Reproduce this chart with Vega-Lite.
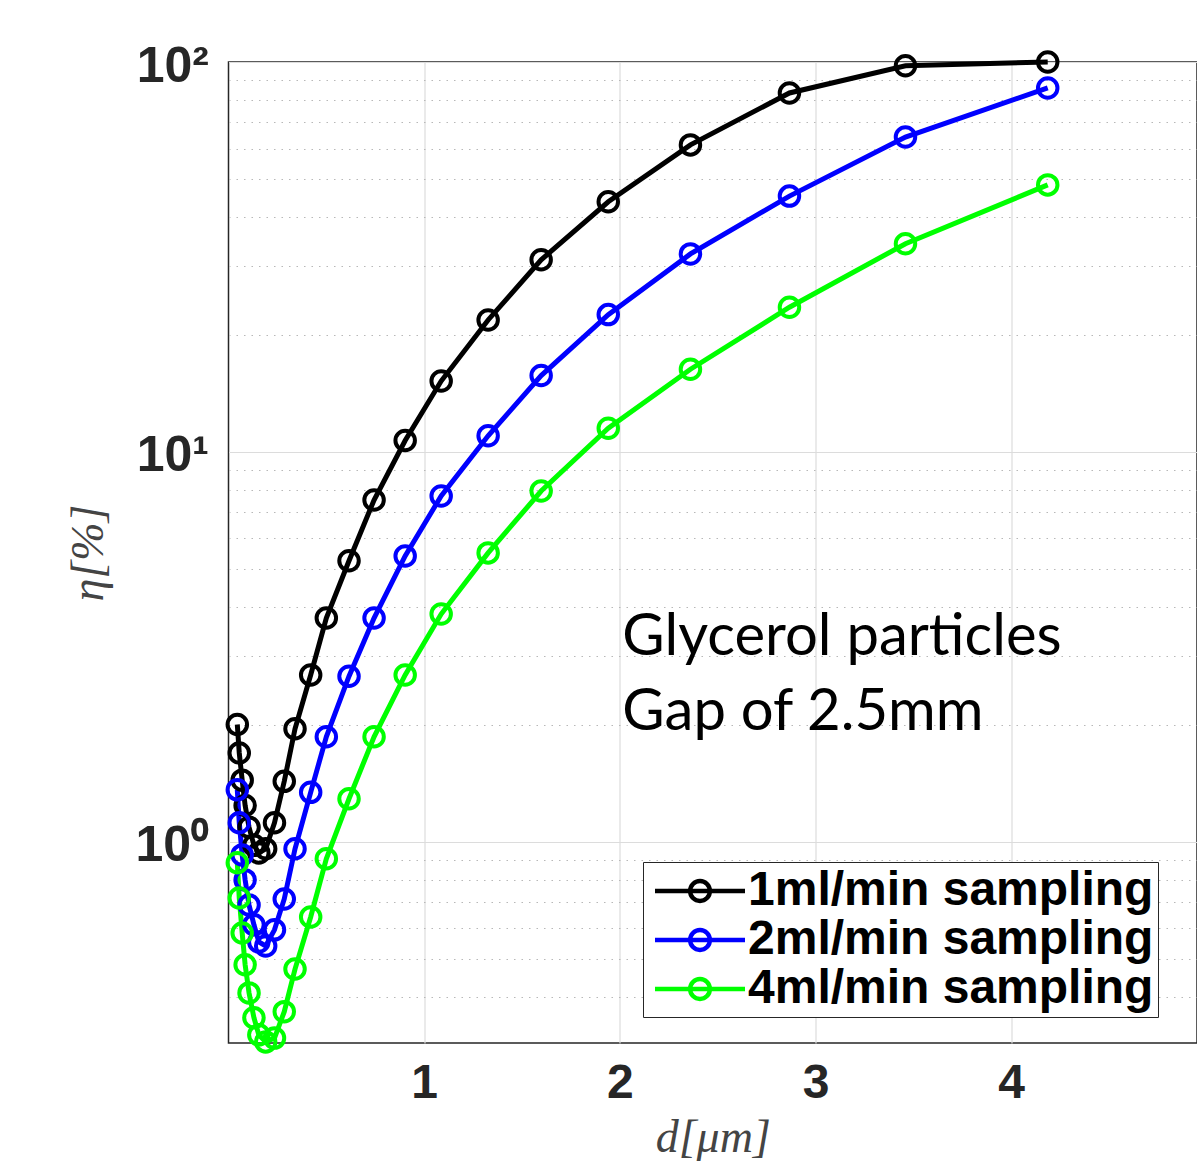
{
  "$schema": "https://vega.github.io/schema/vega-lite/v6.json",
  "autosize": {"type": "none"},
  "padding": {"left": 228.5, "top": 62, "right": 0, "bottom": 118},
  "width": 968.5,
  "height": 981,
  "background": "white",
  "config": {"view": {"stroke": "#262626", "strokeWidth": 1.5}},
  "datasets": {
    "curves": [
      {"series": "1ml/min sampling", "d": 0.045, "eta": 2.0},
      {"series": "1ml/min sampling", "d": 0.055, "eta": 1.69},
      {"series": "1ml/min sampling", "d": 0.07, "eta": 1.44},
      {"series": "1ml/min sampling", "d": 0.085, "eta": 1.24},
      {"series": "1ml/min sampling", "d": 0.105, "eta": 1.09},
      {"series": "1ml/min sampling", "d": 0.13, "eta": 0.98},
      {"series": "1ml/min sampling", "d": 0.155, "eta": 0.937},
      {"series": "1ml/min sampling", "d": 0.19, "eta": 0.96},
      {"series": "1ml/min sampling", "d": 0.235, "eta": 1.12},
      {"series": "1ml/min sampling", "d": 0.285, "eta": 1.43},
      {"series": "1ml/min sampling", "d": 0.34, "eta": 1.95},
      {"series": "1ml/min sampling", "d": 0.42, "eta": 2.68},
      {"series": "1ml/min sampling", "d": 0.5, "eta": 3.75},
      {"series": "1ml/min sampling", "d": 0.616, "eta": 5.26},
      {"series": "1ml/min sampling", "d": 0.744, "eta": 7.53},
      {"series": "1ml/min sampling", "d": 0.903, "eta": 10.7},
      {"series": "1ml/min sampling", "d": 1.087, "eta": 15.2},
      {"series": "1ml/min sampling", "d": 1.327, "eta": 21.8},
      {"series": "1ml/min sampling", "d": 1.598, "eta": 31.1},
      {"series": "1ml/min sampling", "d": 1.941, "eta": 43.8},
      {"series": "1ml/min sampling", "d": 2.361, "eta": 61.3},
      {"series": "1ml/min sampling", "d": 2.867, "eta": 83.3},
      {"series": "1ml/min sampling", "d": 3.46, "eta": 97.8},
      {"series": "1ml/min sampling", "d": 4.187, "eta": 100},
      {"series": "2ml/min sampling", "d": 0.045, "eta": 1.36},
      {"series": "2ml/min sampling", "d": 0.055, "eta": 1.12},
      {"series": "2ml/min sampling", "d": 0.07, "eta": 0.926},
      {"series": "2ml/min sampling", "d": 0.085, "eta": 0.799},
      {"series": "2ml/min sampling", "d": 0.105, "eta": 0.689},
      {"series": "2ml/min sampling", "d": 0.13, "eta": 0.613},
      {"series": "2ml/min sampling", "d": 0.155, "eta": 0.554},
      {"series": "2ml/min sampling", "d": 0.19, "eta": 0.541},
      {"series": "2ml/min sampling", "d": 0.235, "eta": 0.595},
      {"series": "2ml/min sampling", "d": 0.285, "eta": 0.714},
      {"series": "2ml/min sampling", "d": 0.34, "eta": 0.96},
      {"series": "2ml/min sampling", "d": 0.42, "eta": 1.34},
      {"series": "2ml/min sampling", "d": 0.5, "eta": 1.86},
      {"series": "2ml/min sampling", "d": 0.616, "eta": 2.66},
      {"series": "2ml/min sampling", "d": 0.744, "eta": 3.75},
      {"series": "2ml/min sampling", "d": 0.903, "eta": 5.41},
      {"series": "2ml/min sampling", "d": 1.087, "eta": 7.71},
      {"series": "2ml/min sampling", "d": 1.327, "eta": 11.0},
      {"series": "2ml/min sampling", "d": 1.598, "eta": 15.7},
      {"series": "2ml/min sampling", "d": 1.941, "eta": 22.5},
      {"series": "2ml/min sampling", "d": 2.361, "eta": 32.2},
      {"series": "2ml/min sampling", "d": 2.867, "eta": 45.3},
      {"series": "2ml/min sampling", "d": 3.46, "eta": 64.2},
      {"series": "2ml/min sampling", "d": 4.187, "eta": 85.8},
      {"series": "4ml/min sampling", "d": 0.045, "eta": 0.884},
      {"series": "4ml/min sampling", "d": 0.055, "eta": 0.718},
      {"series": "4ml/min sampling", "d": 0.07, "eta": 0.584},
      {"series": "4ml/min sampling", "d": 0.085, "eta": 0.484},
      {"series": "4ml/min sampling", "d": 0.105, "eta": 0.41},
      {"series": "4ml/min sampling", "d": 0.13, "eta": 0.354},
      {"series": "4ml/min sampling", "d": 0.155, "eta": 0.32},
      {"series": "4ml/min sampling", "d": 0.19, "eta": 0.307},
      {"series": "4ml/min sampling", "d": 0.235, "eta": 0.314},
      {"series": "4ml/min sampling", "d": 0.285, "eta": 0.367},
      {"series": "4ml/min sampling", "d": 0.34, "eta": 0.472},
      {"series": "4ml/min sampling", "d": 0.42, "eta": 0.642},
      {"series": "4ml/min sampling", "d": 0.5, "eta": 0.905},
      {"series": "4ml/min sampling", "d": 0.616, "eta": 1.29},
      {"series": "4ml/min sampling", "d": 0.744, "eta": 1.86},
      {"series": "4ml/min sampling", "d": 0.903, "eta": 2.68},
      {"series": "4ml/min sampling", "d": 1.087, "eta": 3.84},
      {"series": "4ml/min sampling", "d": 1.327, "eta": 5.51},
      {"series": "4ml/min sampling", "d": 1.598, "eta": 7.94},
      {"series": "4ml/min sampling", "d": 1.941, "eta": 11.5},
      {"series": "4ml/min sampling", "d": 2.361, "eta": 16.3},
      {"series": "4ml/min sampling", "d": 2.867, "eta": 23.5},
      {"series": "4ml/min sampling", "d": 3.46, "eta": 34.2},
      {"series": "4ml/min sampling", "d": 4.187, "eta": 48.4}
    ],
    "notes": [
      {"text": "Glycerol particles", "d": 2.013, "eta": 3.02},
      {"text": "Gap of 2.5mm", "d": 2.013, "eta": 1.94}
    ]
  },
  "layer": [
    {
      "data": {"name": "notes"},
      "mark": {"type": "text", "align": "left", "baseline": "alphabetic", "font": "Lato", "fontSize": 58, "color": "#000000"},
      "encoding": {
        "x": {
          "field": "d", "type": "quantitative",
          "scale": {"domain": [0, 4.95], "nice": false, "zero": false},
          "axis": {
            "values": [1, 2, 3, 4],
            "grid": true, "gridColor": "#dcdcdc", "gridWidth": 1.2,
            "ticks": false, "domain": false,
            "labelFont": "Liberation Sans", "labelFontWeight": "bold", "labelFontSize": 48,
            "labelColor": "#262626", "labelPadding": 16,
            "title": "d[μm]", "titleFont": "Liberation Serif", "titleFontStyle": "italic",
            "titleFontWeight": "normal", "titleFontSize": 46, "titleColor": "#444444", "titlePadding": 8
          }
        },
        "y": {
          "field": "eta", "type": "quantitative",
          "scale": {"type": "log", "domain": [0.305, 100], "nice": false},
          "axis": {
            "orient": "left",
            "values": [0.4, 0.5, 0.6, 0.7, 0.8, 0.9, 2, 3, 4, 5, 6, 7, 8, 9, 20, 30, 40, 50, 60, 70, 80, 90],
            "grid": true, "gridColor": "#b8b8b8", "gridDash": [1.5, 6], "gridWidth": 1.2,
            "labels": false, "ticks": false, "domain": false, "title": null
          }
        },
        "text": {"field": "text"}
      }
    },
    {
      "data": {"name": "curves"},
      "mark": {
        "type": "line", "strokeWidth": 5, "clip": false,
        "point": {"filled": false, "shape": "circle", "size": 380, "strokeWidth": 4, "opacity": 1, "fill": "transparent"}
      },
      "encoding": {
        "x": {
          "field": "d", "type": "quantitative",
          "axis": {
            "values": [1, 2, 3, 4],
            "grid": true, "gridColor": "#dcdcdc", "gridWidth": 1.2,
            "ticks": false, "domain": false,
            "labelFont": "Liberation Sans", "labelFontWeight": "bold", "labelFontSize": 48,
            "labelColor": "#262626", "labelPadding": 16,
            "title": "d[μm]", "titleFont": "Liberation Serif", "titleFontStyle": "italic",
            "titleFontWeight": "normal", "titleFontSize": 46, "titleColor": "#444444", "titlePadding": 8
          }
        },
        "y": {
          "field": "eta", "type": "quantitative",
          "axis": {
            "orient": "left",
            "values": [1, 10, 100],
            "labelExpr": "datum.value == 1 ? '10⁰' : datum.value == 10 ? '10¹' : '10²'",
            "grid": true, "gridColor": "#dcdcdc", "gridWidth": 1.2,
            "ticks": false, "domain": false,
            "labelFont": "Liberation Sans", "labelFontWeight": "bold", "labelFontSize": 50,
            "labelColor": "#262626", "labelPadding": 20, "labelOffset": 4,
            "title": "η[%]", "titleFont": "Liberation Serif", "titleFontStyle": "italic",
            "titleFontWeight": "normal", "titleFontSize": 46, "titleColor": "#444444", "titlePadding": 22
          }
        },
        "color": {
          "field": "series", "type": "nominal",
          "scale": {"domain": ["1ml/min sampling", "2ml/min sampling", "4ml/min sampling"], "range": ["#000000", "#0000ff", "#00ff00"]},
          "legend": {
            "orient": "none", "legendX": 414.5, "legendY": 800,
            "title": null,
            "strokeColor": "#262626", "fillColor": "white", "padding": 4,
            "symbolType": "M-2,0H2M-0.44,0A0.44,0.44,0,1,1,0.44,0A0.44,0.44,0,1,1,-0.44,0",
            "symbolSize": 2025, "symbolStrokeWidth": 4.5, "symbolFillColor": "transparent",
            "symbolOffset": 28,
            "labelFont": "Liberation Sans", "labelFontWeight": "bold", "labelFontSize": 48,
            "labelColor": "#000000", "labelOffset": 23, "rowPadding": -20, "labelLimit": 600
          }
        }
      }
    }
  ],
  "resolve": {"axis": {"y": "independent"}}
}
